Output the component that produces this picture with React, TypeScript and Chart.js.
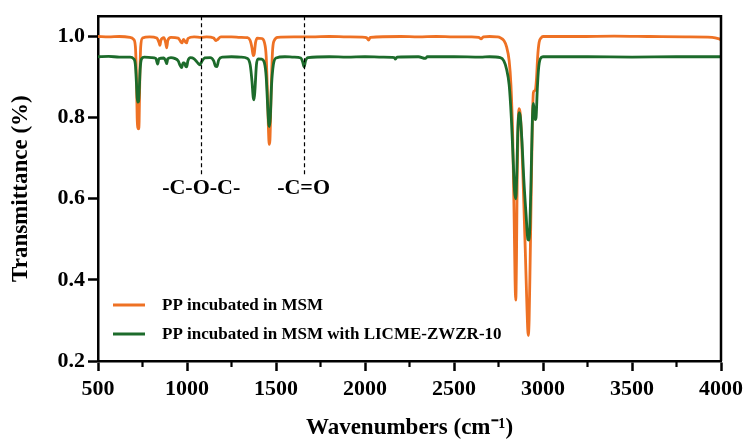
import React, { useEffect, useRef } from 'react';
import { Chart, registerables } from 'chart.js';

Chart.register(...registerables);

// ---- Data ----
const orangeWn = [
  500, 560, 620, 680, 700, 710, 716, 720, 724, 728, 731, 735, 740, 750, 790, 830, 843, 848, 853, 870,
  880, 886, 892, 910, 950, 965, 972, 980, 992, 998, 1005, 1040, 1080, 1110, 1150, 1162, 1170, 1190, 1250, 1300,
  1340, 1355, 1365, 1372, 1378, 1385, 1395, 1420, 1435, 1445, 1452, 1458, 1462, 1466, 1472, 1480, 1490, 1510, 1600, 1700,
  1800, 1900, 2000, 2012, 2020, 2030, 2200, 2300, 2400, 2500, 2600, 2640, 2652, 2665, 2700, 2740, 2760, 2780, 2795, 2810,
  2820, 2830, 2838, 2843, 2847, 2851, 2855, 2860, 2866, 2872, 2880, 2890, 2900, 2910, 2917, 2922, 2928, 2934, 2940, 2946,
  2952, 2958, 2964, 2970, 2978, 2990, 3000, 3200, 3400, 3600, 3800, 3950, 3990, 4000,
];
const orangeT = [
  1.0, 0.999, 1.0, 0.998, 0.993, 0.975, 0.9, 0.8, 0.775, 0.772, 0.79, 0.9, 0.975, 0.996, 0.999, 0.996, 0.985, 0.978, 0.99, 0.997,
  0.985, 0.972, 0.99, 0.998, 0.996, 0.987, 0.984, 0.993, 0.986, 0.984, 0.995, 0.999, 0.998, 0.999, 0.996, 0.99, 0.992, 0.999, 0.999, 0.998,
  0.997, 0.99, 0.972, 0.953, 0.958, 0.985, 0.996, 0.995, 0.985, 0.95, 0.86, 0.765, 0.734, 0.745, 0.85, 0.96, 0.99, 0.998, 0.999, 0.999,
  1.0, 0.999, 0.998, 0.996, 0.991, 0.998, 1.0, 0.999, 1.0, 0.999, 0.999, 0.998, 0.994, 0.999, 1.0, 0.999, 0.997, 0.99, 0.975, 0.94,
  0.88, 0.75, 0.55, 0.4, 0.35, 0.45, 0.65, 0.78, 0.822, 0.81, 0.75, 0.62, 0.48, 0.33, 0.263, 0.3, 0.45, 0.62, 0.78, 0.862,
  0.866, 0.87, 0.9, 0.95, 0.985, 0.997, 1.0, 1.0, 1.001, 1.0, 0.999, 0.998, 0.994, 0.992,
];

const greenWn = [
  500, 560, 620, 680, 700, 710, 716, 720, 724, 728, 732, 737, 745, 760, 800, 825, 835, 842, 870, 880,
  886, 892, 910, 930, 950, 962, 970, 978, 985, 993, 998, 1005, 1020, 1040, 1060, 1072, 1085, 1100, 1130, 1150,
  1160, 1168, 1178, 1200, 1250, 1300, 1340, 1355, 1365, 1372, 1377, 1382, 1390, 1400, 1420, 1435, 1445, 1453, 1459, 1463,
  1468, 1475, 1485, 1500, 1550, 1600, 1640, 1650, 1658, 1666, 1680, 1800, 1900, 2000, 2100, 2165, 2171, 2180, 2300, 2339,
  2350, 2500, 2650, 2700, 2760, 2780, 2795, 2810, 2822, 2832, 2840, 2847, 2852, 2858, 2866, 2873, 2882, 2892, 2905, 2915,
  2920, 2926, 2933, 2940, 2946, 2951, 2956, 2961, 2968, 2975, 2985, 3000, 3250, 3500, 3750, 4000,
];
const greenT = [
  0.95, 0.951, 0.949, 0.949, 0.945, 0.93, 0.885, 0.85, 0.838, 0.84, 0.87, 0.92, 0.945, 0.949, 0.948, 0.946, 0.932, 0.945, 0.947, 0.94,
  0.933, 0.945, 0.948, 0.946, 0.94, 0.928, 0.923, 0.935, 0.935, 0.926, 0.925, 0.94, 0.948, 0.945, 0.935, 0.93, 0.94, 0.947, 0.948, 0.94,
  0.927, 0.926, 0.942, 0.949, 0.95, 0.949, 0.946, 0.93, 0.89, 0.85, 0.844, 0.87, 0.93, 0.945, 0.944, 0.935, 0.9, 0.83, 0.785, 0.778,
  0.8, 0.88, 0.93, 0.947, 0.95, 0.949, 0.947, 0.937, 0.925, 0.94, 0.948, 0.95, 0.949, 0.95, 0.949, 0.948, 0.944, 0.949, 0.95, 0.946,
  0.95, 0.95, 0.949, 0.95, 0.948, 0.94, 0.92, 0.88, 0.8, 0.7, 0.62, 0.6, 0.65, 0.76, 0.812, 0.8, 0.74, 0.65, 0.56, 0.5,
  0.498, 0.53, 0.65, 0.79, 0.835, 0.815, 0.795, 0.8, 0.87, 0.92, 0.945, 0.95, 0.95, 0.949, 0.95, 0.95,
];

const seriesLabels = ['PP incubated in MSM', 'PP incubated in MSM with LICME-ZWZR-10'];
const seriesColors = ['#EE7124', '#1C6B2B'];

const xTickValues = [500, 1000, 1500, 2000, 2500, 3000, 3500, 4000];
const xMinorTicks = [750, 1250, 1750, 2250, 2750, 3250, 3750];
const yTickValues = [0.2, 0.4, 0.6, 0.8, 1.0];

const markerWn = [1080, 1655];
const markerLabels = ['-C-O-C-', '-C=O'];
const markerTop = 1.05;
const markerBottom = 0.656;
const markerLabelY = 0.625;

const FONT = "'Liberation Serif', 'Times New Roman', serif";

const decorPlugin = {
  id: 'decor',
  afterDatasetsDraw(chart: any) {
    const { ctx, chartArea: ca, scales } = chart;
    const x = scales.x;
    const y = scales.y;
    ctx.save();
    // marker dashed lines + labels
    ctx.strokeStyle = '#000';
    ctx.lineWidth = 1.2;
    ctx.setLineDash([4, 3]);
    markerWn.forEach((w) => {
      const px = Math.round(x.getPixelForValue(w)) + 0.5;
      ctx.beginPath();
      ctx.moveTo(px, y.getPixelForValue(markerTop));
      ctx.lineTo(px, y.getPixelForValue(markerBottom));
      ctx.stroke();
    });
    ctx.setLineDash([]);
    ctx.fillStyle = '#000';
    ctx.font = `bold 22px ${FONT}`;
    ctx.textAlign = 'center';
    ctx.textBaseline = 'middle';
    markerWn.forEach((w, i) => {
      ctx.fillText(markerLabels[i], x.getPixelForValue(w), y.getPixelForValue(markerLabelY));
    });
    // frame top + right
    ctx.lineWidth = 2.5;
    ctx.beginPath();
    ctx.moveTo(ca.left, ca.top);
    ctx.lineTo(ca.right, ca.top);
    ctx.lineTo(ca.right, ca.bottom);
    ctx.stroke();
    // minor x ticks
    ctx.lineWidth = 2.2;
    xMinorTicks.forEach((v) => {
      const px = x.getPixelForValue(v);
      ctx.beginPath();
      ctx.moveTo(px, ca.bottom);
      ctx.lineTo(px, ca.bottom + 6);
      ctx.stroke();
    });
    // legend
    ctx.font = `bold 17px ${FONT}`;
    ctx.textAlign = 'left';
    ctx.textBaseline = 'middle';
    const rows = [ca.bottom - 56, ca.bottom - 27];
    seriesLabels.forEach((lab, i) => {
      ctx.strokeStyle = seriesColors[i];
      ctx.lineWidth = 3;
      ctx.beginPath();
      ctx.moveTo(ca.left + 15, rows[i]);
      ctx.lineTo(ca.left + 47, rows[i]);
      ctx.stroke();
      ctx.fillStyle = '#000';
      ctx.fillText(lab, ca.left + 64, rows[i] + 1);
    });
    ctx.restore();
  },
};

export default function App() {
  const ref = useRef<HTMLCanvasElement | null>(null);

  useEffect(() => {
    if (!ref.current) return;
    const chart = new Chart(ref.current, {
      type: 'line',
      data: {
        datasets: [
          {
            label: seriesLabels[0],
            data: orangeWn.map((w, i) => ({ x: w, y: orangeT[i] })),
            borderColor: seriesColors[0],
            backgroundColor: seriesColors[0],
            borderWidth: 2.8,
            pointRadius: 0,
            cubicInterpolationMode: 'monotone',
            order: 1,
          },
          {
            label: seriesLabels[1],
            data: greenWn.map((w, i) => ({ x: w, y: greenT[i] })),
            borderColor: seriesColors[1],
            backgroundColor: seriesColors[1],
            borderWidth: 2.8,
            pointRadius: 0,
            cubicInterpolationMode: 'monotone',
            order: 0,
          },
        ],
      },
      options: {
        animation: false,
        responsive: false,
        events: [],
        layout: { padding: { top: 15, right: 24, left: 0, bottom: 0 } },
        plugins: {
          legend: { display: false },
          tooltip: { enabled: false },
        },
        scales: {
          x: {
            type: 'linear',
            min: 500,
            max: 4000,
            afterBuildTicks: (axis: any) => {
              axis.ticks = xTickValues.map((v) => ({ value: v }));
            },
            afterFit: (axis: any) => {
              axis.height = 79;
            },
            border: { display: true, color: '#000', width: 2.5 },
            grid: {
              drawOnChartArea: false,
              drawTicks: true,
              tickLength: 10,
              tickWidth: 2.5,
              tickColor: '#000',
              color: '#000',
            },
            ticks: {
              color: '#000',
              padding: 5,
              maxRotation: 0,
              font: { family: FONT, size: 22, weight: 'bold' },
              callback: (v: any) => String(v),
            },
            title: {
              display: true,
              text: 'Wavenumbers (cm\u207B\u00B9)',
              color: '#000',
              font: { family: FONT, size: 23, weight: 'bold', lineHeight: 1.0 },
              padding: { top: 0, bottom: 0 },
            },
          },
          y: {
            type: 'linear',
            min: 0.2,
            max: 1.05,
            afterBuildTicks: (axis: any) => {
              axis.ticks = yTickValues.map((v) => ({ value: v }));
            },
            afterFit: (axis: any) => {
              axis.width = 98;
            },
            border: { display: true, color: '#000', width: 2.5 },
            grid: {
              drawOnChartArea: false,
              drawTicks: true,
              tickLength: 10,
              tickWidth: 2.5,
              tickColor: '#000',
              color: '#000',
            },
            ticks: {
              color: '#000',
              padding: 3,
              font: { family: FONT, size: 22, weight: 'bold' },
              callback: (v: any) => Number(v).toFixed(1),
            },
            title: {
              display: true,
              text: 'Transmittance (%)',
              color: '#000',
              font: { family: FONT, size: 23, weight: 'bold' },
              padding: { top: 7, bottom: 0 },
            },
          },
        },
      },
      plugins: [decorPlugin],
    } as any);
    return () => chart.destroy();
  }, []);

  return (
    <div style={{ position: 'fixed', left: 0, top: 0, width: 748, height: 440, background: '#fff' }}>
      <canvas ref={ref} width={748} height={440} style={{ width: 748, height: 440, display: 'block' }} />
    </div>
  );
}
